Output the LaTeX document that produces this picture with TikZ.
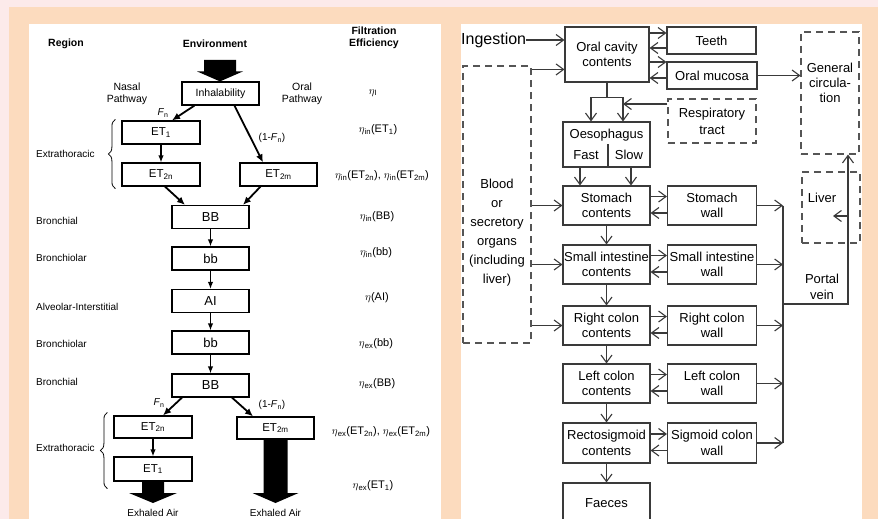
\documentclass[tikz,border=0pt]{standalone}
\usepackage{fontspec}
\setmainfont{Liberation Sans}
\usetikzlibrary{arrows.meta,positioning,calc,decorations.pathreplacing}
\definecolor{peach}{HTML}{FCDBBE}
\definecolor{blush}{HTML}{FCEAEA}
\definecolor{ink}{HTML}{3A3A3A}
\definecolor{dashgray}{HTML}{555555}
% block arrow: #1 shaft top, #2 tip, #3 half shaft, #4 half head
\newcommand{\fatarrow}[4]{%
  \fill let \p1=(#1), \p2=(#2) in
    (\x1-#3,\y1) -- (\x1+#3,\y1) -- (\x1+#3,\y2+10pt) -- (\x1+#4,\y2+10pt)
    -- (\x1,\y2) -- (\x1-#4,\y2+10pt) -- (\x1-#3,\y2+10pt) -- cycle;}

\begin{document}
\begin{tikzpicture}[x=1pt,y=-1pt,
  every node/.style={align=center,inner sep=1pt},
  lbl/.style={font=\fontsize{10}{11.5}\selectfont},
  eff/.style={font=\fontsize{11}{12}\selectfont},
  hdr/.style={font=\bfseries\fontsize{10.5}{12}\selectfont},
  lbox/.style={draw,line width=1.2pt,minimum width=77pt,minimum height=23pt,
    inner sep=0pt,font=\fontsize{13}{14}\selectfont},
  etbox/.style={lbox,minimum width=78pt,font=\fontsize{11.5}{12}\selectfont},
  bigarr/.style={-{Latex[length=8pt,width=7pt]},line width=1.8pt},
  smallarr/.style={-{Latex[length=7pt,width=5.5pt]},line width=1.3pt},
  gbox/.style={draw=ink,line width=1.1pt,minimum width=87pt,minimum height=39pt,
    inner sep=0pt,font=\fontsize{13}{15.5}\selectfont},
  wbox/.style={gbox,minimum width=89pt},
  dbox/.style={draw=dashgray,line width=1.1pt,dash pattern=on 7pt off 5pt,inner sep=0pt},
  rarr/.style={-{Straight Barb[length=7.5pt,width=11pt]},draw=ink,line width=1.1pt},
  rtxt/.style={font=\fontsize{13}{15.5}\selectfont}
]
\useasboundingbox (0,0) rectangle (878,519);
\fill[blush] (0,0) rectangle (878,519);
\fill[peach] (9,7) rectangle (878,519);
\fill[white] (29,24) rectangle (441,519);
\fill[white] (461,24) rectangle (862,519);

% ---- left panel: respiratory tract
\node[hdr] (hregion) at (66,44) {Region};
\node[hdr] (henv) at (215,44) {Environment};
\node[hdr] (hfilt) at (374,38) {Filtration\\Efficiency};

\node[lbox,font=\fontsize{10.5}{12}\selectfont] (inhal) at (220.5,93.5) {Inhalability};
\node[etbox] (et1) at (161,132.5) {ET\textsubscript{1}};
\node[etbox] (et2n) at (161,174.5) {ET\textsubscript{2n}};
\node[lbox,font=\fontsize{11.5}{12}\selectfont] (et2m) at (278.5,174.5) {ET\textsubscript{2m}};
\node[lbox] (bbi) at (210.5,217) {BB};
\node[lbox] (bsi) at (210.5,258.5) {bb};
\node[lbox] (ai) at (210.5,301) {AI};
\node[lbox] (bse) at (210.5,342.5) {bb};
\node[lbox] (bbe) at (210.5,385.5) {BB};
\node[etbox,minimum height=22pt] (et2ne) at (153,427) {ET\textsubscript{2n}};
\node[lbox,minimum height=22pt,font=\fontsize{11.5}{12}\selectfont] (et2me) at (275.5,428) {ET\textsubscript{2m}};
\node[etbox,minimum height=24pt] (et1e) at (153,469) {ET\textsubscript{1}};

\node[lbl,font=\fontsize{10.5}{12}\selectfont] (nasal) at (127,94) {Nasal\\Pathway};
\node[lbl,font=\fontsize{10.5}{12}\selectfont] (oralpath) at (302,94) {Oral\\Pathway};
\node[lbl] (fnin) at (163,113) {\textit{F}\textsubscript{n}};
\node[lbl] (omfin) at (272,138) {(1-\textit{F}\textsubscript{n})};
\node[lbl] (fnout) at (159,403) {\textit{F}\textsubscript{n}};
\node[lbl] (omfout) at (272,405) {(1-\textit{F}\textsubscript{n})};

\node[lbl,anchor=west] (rext1) at (35,154) {Extrathoracic};
\node[lbl,anchor=west] (rbr1) at (35,221) {Bronchial};
\node[lbl,anchor=west] (rbl1) at (35,258) {Bronchiolar};
\node[lbl,anchor=west] (ralv) at (35,307) {Alveolar-Interstitial};
\node[lbl,anchor=west] (rbl2) at (35,344) {Bronchiolar};
\node[lbl,anchor=west] (rbr2) at (35,382) {Bronchial};
\node[lbl,anchor=west] (rext2) at (35,448) {Extrathoracic};

\node[eff] (etaI) at (373,93) {$\eta$\textsubscript{I}};
\node[eff] (etaet1) at (378,130) {$\eta$\textsubscript{in}(ET\textsubscript{1})};
\node[eff] (etaet2) at (382,176) {$\eta$\textsubscript{in}(ET\textsubscript{2n}), $\eta$\textsubscript{in}(ET\textsubscript{2m})};
\node[eff] (etabbi) at (377,217) {$\eta$\textsubscript{in}(BB)};
\node[eff] (etabsi) at (376,253) {$\eta$\textsubscript{in}(bb)};
\node[eff] (etaai) at (377,298) {$\eta$(AI)};
\node[eff] (etabse) at (376,344) {$\eta$\textsubscript{ex}(bb)};
\node[eff] (etabbe) at (377,384) {$\eta$\textsubscript{ex}(BB)};
\node[eff] (etaet2e) at (381,432) {$\eta$\textsubscript{ex}(ET\textsubscript{2n}), $\eta$\textsubscript{ex}(ET\textsubscript{2m})};
\node[eff] (etaet1e) at (373,486) {$\eta$\textsubscript{ex}(ET\textsubscript{1})};

\coordinate (envtop) at (220,60);
\coordinate (exhA) at (153,503);
\coordinate (exhB) at (275.5,503);
\fatarrow{envtop}{inhal.north}{16pt}{23pt}
\fatarrow{et1e.south}{exhA}{11pt}{24pt}
\fatarrow{et2me.south}{exhB}{12pt}{23pt}
\node[lbl,anchor=base] (exhaleA) at (153,516) {Exhaled Air};
\node[lbl,anchor=base] (exhaleB) at (275.5,516) {Exhaled Air};

\draw[bigarr] ($(inhal.south west)+(13,0)$) -- ($(et1.north)+(11,0)$);
\draw[bigarr] ($(inhal.south)+(14,0)$) -- ($(et2m.north)+(-15.5,0)$);
\draw[smallarr] (et1.south) -- (et2n.north);
\draw[bigarr] ($(et2n.south)+(4,0)$) -- ($(bbi.north)+(-25.5,0)$);
\draw[bigarr] ($(et2m.south)+(-18,0)$) -- ($(bbi.north)+(32.5,0)$);
\draw[smallarr] (bbi.south) -- (bsi.north);
\draw[smallarr] (bsi.south) -- (ai.north);
\draw[smallarr] (ai.south) -- (bse.north);
\draw[smallarr] (bse.south) -- (bbe.north);
\draw[bigarr] ($(bbe.south)+(-28.5,0)$) -- ($(et2ne.north)+(10,0)$);
\draw[bigarr] ($(bbe.south)+(21.5,0)$) -- ($(et2me.north)+(-22.5,0)$);
\draw[smallarr] (et2ne.south) -- (et1e.north);

\draw[decorate,decoration={brace,amplitude=7pt},line width=0.8pt]
  ($(et2n.south west)+(-6,2)$) -- ($(et1.north west)+(-6,-1)$);
\draw[decorate,decoration={brace,amplitude=7pt},line width=0.8pt]
  ($(et1e.south west)+(-6,7)$) -- ($(et2ne.north west)+(-6,-3)$);

% ---- right panel: alimentary tract
\node[font=\fontsize{16}{18}\selectfont,anchor=west,inner sep=0pt] (ingest) at (461,40) {Ingestion};
\node[gbox,minimum width=84pt,minimum height=55pt] (oral) at (607,54.5) {Oral cavity\\contents};
\node[wbox,minimum height=27pt] (teeth) at (711.5,40.5) {Teeth};
\node[wbox,minimum width=90pt,minimum height=27pt] (mucosa) at (712,75.5) {Oral mucosa};
\node[dbox,minimum width=58pt,minimum height=122pt] (gencirc) at (830,93) {};
\node[rtxt,font=\fontsize{13}{15}\selectfont] (gentext) at (830,83) {General\\circula-\\tion};
\node[dbox,minimum width=68pt,minimum height=277pt] (blood) at (497,204.5) {};
\node[rtxt,font=\fontsize{13}{19}\selectfont] (bloodtext) at (497,233) {Blood\\or\\secretory\\organs\\(including\\liver)};
\node[dbox,minimum width=88pt,minimum height=44pt,rtxt,font=\fontsize{13}{17}\selectfont] (resp) at (712,121) {Respiratory\\tract};
\node[gbox,minimum height=45pt] (oeso) at (606.5,144.5) {};
\node[rtxt] (oesotext) at (606.5,135) {Oesophagus};
\node[rtxt] (fast) at (586,155) {Fast};
\node[rtxt] (slow) at (629,155) {Slow};
\draw[ink,line width=1.1pt] ($(oeso.south)+(1.5,0)$) -- ++(0,-24);

\node[gbox] (stomc) at (606.5,205.5) {Stomach\\contents};
\node[wbox] (stomw) at (712,205.5) {Stomach\\wall};
\node[gbox] (sic) at (606.5,264.5) {Small intestine\\contents};
\node[wbox] (siw) at (712,264.5) {Small intestine\\wall};
\node[gbox] (rcc) at (606.5,325.5) {Right colon\\contents};
\node[wbox] (rcw) at (712,325.5) {Right colon\\wall};
\node[gbox] (lcc) at (606.5,383.5) {Left colon\\contents};
\node[wbox] (lcw) at (712,383.5) {Left colon\\wall};
\node[gbox,minimum height=40pt] (rsc) at (606.5,443) {Rectosigmoid\\contents};
\node[wbox,minimum height=40pt] (rsw) at (712,443) {Sigmoid colon\\wall};
\node[gbox,minimum height=40pt] (faeces) at (606.5,503) {Faeces};
\node[dbox,minimum width=58pt,minimum height=71pt] (liver) at (831,207.5) {};
\node[rtxt] (livertext) at (822,198) {Liver};
\node[rtxt,font=\fontsize{13}{16}\selectfont] (portaltext) at (822,287) {Portal\\vein};

\draw[rarr] (ingest.east) -- (ingest.east -| oral.west);
\coordinate (bloodout) at ($(blood.north east)+(0,4)$);
\draw[rarr] (bloodout) -- (bloodout -| oral.west);
\draw[rarr] ($(oral.east |- teeth.west)+(0,-7.5)$) -- ($(teeth.west)+(0,-7.5)$);
\draw[rarr] ($(teeth.west)+(0,7.5)$) -- ($(oral.east |- teeth.west)+(0,7.5)$);
\draw[rarr] ($(oral.east |- mucosa.west)+(0,-13.5)$) -- ($(mucosa.west)+(0,-13.5)$);
\draw[rarr] ($(mucosa.west)+(0,2.5)$) -- ($(oral.east |- mucosa.west)+(0,2.5)$);
\draw[rarr] (mucosa.east) -- (mucosa.east -| gencirc.west);

\coordinate (split) at ($(oral.south)+(0,15)$);
\coordinate (branchL) at ($(oeso.north)+(-15.5,0)$);
\coordinate (branchR) at ($(oeso.north)+(16.5,0)$);
\draw[ink,line width=1.1pt] (oral.south) -- (split);
\draw[rarr] (split) -| (branchL);
\draw[rarr] (split) -| (branchR);
\coordinate (respout) at ($(resp.west)+(0,-17)$);
\draw[rarr] (respout) -- (respout -| branchR);
\draw[rarr] ($(oeso.south)+(-26.5,0)$) -- ($(stomc.north)+(-26.5,0)$);
\draw[rarr] ($(oeso.south)+(24.5,0)$) -- ($(stomc.north)+(24.5,0)$);

\draw[rarr] (stomc.south) -- (sic.north);
\draw[rarr] (sic.south) -- (rcc.north);
\draw[rarr] (rcc.south) -- (lcc.north);
\draw[rarr] (lcc.south) -- (rsc.north);
\draw[rarr] (rsc.south) -- (faeces.north);

\draw[rarr] ($(stomc.east)+(0,-9)$) -- ($(stomw.west)+(0,-9)$);
\draw[rarr] ($(stomw.west)+(0,7.5)$) -- ($(stomc.east)+(0,7.5)$);
\draw[rarr] ($(sic.east)+(0,-9)$) -- ($(siw.west)+(0,-9)$);
\draw[rarr] ($(siw.west)+(0,7.5)$) -- ($(sic.east)+(0,7.5)$);
\draw[rarr] ($(rcc.east)+(0,-9)$) -- ($(rcw.west)+(0,-9)$);
\draw[rarr] ($(rcw.west)+(0,7.5)$) -- ($(rcc.east)+(0,7.5)$);
\draw[rarr] ($(lcc.east)+(0,-9)$) -- ($(lcw.west)+(0,-9)$);
\draw[rarr] ($(lcw.west)+(0,7.5)$) -- ($(lcc.east)+(0,7.5)$);
\draw[rarr] ($(rsc.east)+(0,-9)$) -- ($(rsw.west)+(0,-9)$);
\draw[rarr] ($(rsw.west)+(0,7.5)$) -- ($(rsc.east)+(0,7.5)$);

\draw[rarr] (blood.east |- stomc.west) -- (stomc.west);
\draw[rarr] (blood.east |- sic.west) -- (sic.west);
\draw[rarr] (blood.east |- rcc.west) -- (rcc.west);

\coordinate (portal) at (783,304);
\coordinate (veinbend) at (848,304);
\coordinate (liverin) at (833,216);
\draw[ink,line width=1.1pt] (portal |- stomw.east) -- (portal |- rsw.east);
\draw[rarr] (stomw.east) -- (stomw.east -| portal);
\draw[rarr] (siw.east) -- (siw.east -| portal);
\draw[rarr] (rcw.east) -- (rcw.east -| portal);
\draw[rarr] (lcw.east) -- (lcw.east -| portal);
\draw[rarr] (rsw.east) -- (rsw.east -| portal);
\draw[rarr] (portal) -- (veinbend) -- (veinbend |- gencirc.south);
\draw[rarr] (veinbend |- liverin) -- (liverin);
\end{tikzpicture}
\end{document}
